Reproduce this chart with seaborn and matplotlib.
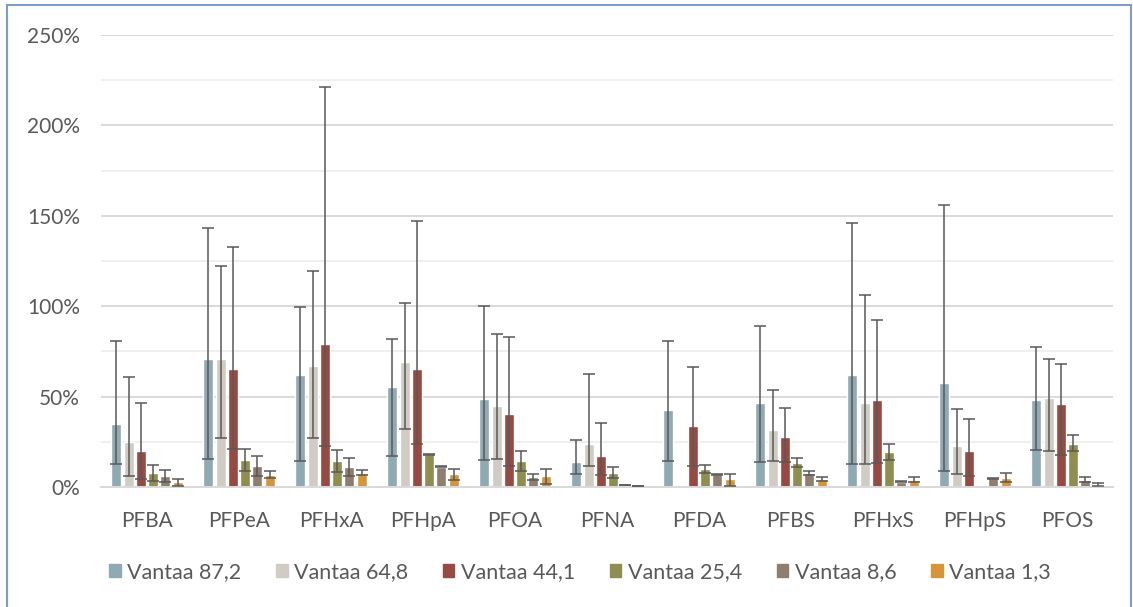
import numpy as np
import pandas as pd
import matplotlib
matplotlib.use("Agg")
import matplotlib.pyplot as plt
from matplotlib.patches import Rectangle
from matplotlib.ticker import FuncFormatter, MultipleLocator
import seaborn as sns

# Compounds and sampling sites
compounds = ["PFBA", "PFPeA", "PFHxA", "PFHpA", "PFOA", "PFNA",
             "PFDA", "PFBS", "PFHxS", "PFHpS", "PFOS"]
sites = ["Vantaa 87,2", "Vantaa 64,8", "Vantaa 44,1",
         "Vantaa 25,4", "Vantaa 8,6", "Vantaa 1,3"]

# Mean recovery (fraction), one list per site; NaN = not determined
v87_2 = [0.351, 0.706, 0.618, 0.553, 0.487, 0.140, 0.428, 0.465, 0.618, 0.575, 0.480]
v64_8 = [0.251, 0.706, 0.671, 0.690, 0.448, 0.236, np.nan, 0.314, 0.465, 0.227, 0.494]
v44_1 = [0.199, 0.653, 0.789, 0.653, 0.406, 0.170, 0.337, 0.275, 0.480, 0.201, 0.461]
v25_4 = [0.078, 0.151, 0.144, 0.181, 0.144, 0.080, 0.098, 0.135, 0.192, np.nan, 0.240]
v8_6 = [0.061, 0.116, 0.109, 0.111, 0.054, 0.011, 0.072, 0.080, 0.030, 0.048, 0.041]
v1_3 = [0.026, 0.066, 0.080, 0.070, 0.059, 0.004, 0.043, 0.044, 0.041, 0.052, 0.011]

# Lower and upper ends of the error bars
lo87_2 = [0.126, 0.153, 0.144, 0.174, 0.151, 0.070, 0.146, 0.138, 0.129, 0.089, 0.207]
hi87_2 = [0.810, 1.430, 0.996, 0.819, 1.003, 0.258, 0.806, 0.890, 1.460, 1.560, 0.774]
lo64_8 = [0.061, 0.271, 0.273, 0.323, 0.157, 0.118, np.nan, 0.144, 0.129, 0.070, 0.199]
hi64_8 = [0.607, 1.220, 1.195, 1.020, 0.845, 0.625, np.nan, 0.539, 1.062, 0.430, 0.710]
lo44_1 = [0.046, 0.212, 0.227, 0.240, 0.118, 0.068, 0.118, 0.138, 0.135, 0.063, 0.179]
hi44_1 = [0.467, 1.330, 2.210, 1.470, 0.832, 0.354, 0.664, 0.439, 0.922, 0.378, 0.682]
lo25_4 = [0.035, 0.091, 0.083, 0.175, 0.091, 0.052, 0.078, 0.111, 0.148, np.nan, 0.199]
hi25_4 = [0.124, 0.212, 0.207, 0.182, 0.199, 0.109, 0.122, 0.160, 0.236, np.nan, 0.286]
lo8_6 = [0.030, 0.063, 0.059, 0.108, 0.041, 0.009, 0.068, 0.068, 0.028, 0.046, 0.026]
hi8_6 = [0.096, 0.170, 0.160, 0.114, 0.070, 0.013, 0.074, 0.091, 0.032, 0.050, 0.055]
lo1_3 = [0.007, 0.048, 0.068, 0.041, 0.019, 0.003, 0.008, 0.033, 0.030, 0.030, 0.008]
hi1_3 = [0.044, 0.087, 0.094, 0.100, 0.100, 0.005, 0.074, 0.055, 0.055, 0.078, 0.024]

means = [v87_2, v64_8, v44_1, v25_4, v8_6, v1_3]
lows = [lo87_2, lo64_8, lo44_1, lo25_4, lo8_6, lo1_3]
highs = [hi87_2, hi64_8, hi44_1, hi25_4, hi8_6, hi1_3]

colors = ["#8FAAB3", "#D0CCC4", "#954A43", "#8E8E52", "#8D7E71", "#D5963A"]
text_color = "#595959"

sns.set_theme(style="white")
plt.rcParams["font.family"] = ["Lato", "DejaVu Sans"]

rows = []
for site, vals in zip(sites, means):
    for comp, v in zip(compounds, vals):
        rows.append({"compound": comp, "site": site,
                     "value": 0.0 if np.isnan(v) else v})
df = pd.DataFrame(rows)

fig = plt.figure(figsize=(11.33, 6.07), dpi=100)
ax = fig.add_axes([101 / 1133, 1 - 487 / 607, 1012 / 1133, 452 / 607])

sns.barplot(data=df, x="compound", y="value", hue="site", order=compounds,
            hue_order=sites, palette=colors, width=0.8, gap=0.2,
            saturation=1, errorbar=None, ax=ax, legend=False, zorder=2)

# Asymmetric error bars centred on each bar
for cont, vals, lo, hi in zip(ax.containers, means, lows, highs):
    xs = [p.get_x() + p.get_width() / 2 for p in cont.patches]
    vals = np.array(vals, dtype=float)
    lo = np.array(lo, dtype=float)
    hi = np.array(hi, dtype=float)
    ok = ~np.isnan(vals) & ~np.isnan(lo)
    xs = np.array(xs)[ok]
    ax.errorbar(xs, vals[ok], yerr=[vals[ok] - lo[ok], hi[ok] - vals[ok]],
                fmt="none", ecolor=text_color, elinewidth=1.1,
                capsize=4.3, capthick=1.1, zorder=3)

ax.set_ylim(0, 2.5)
ax.set_xlim(-0.5, len(compounds) - 0.5)
ax.yaxis.set_major_locator(MultipleLocator(0.5))
ax.yaxis.set_minor_locator(MultipleLocator(0.25))
ax.yaxis.set_major_formatter(FuncFormatter(lambda v, _: f"{v * 100:.0f}%"))
ax.grid(axis="y", which="major", color="#D9D9D9", linewidth=1.4, zorder=0)
ax.grid(axis="y", which="minor", color="#EFEFEF", linewidth=1.4, zorder=0)
ax.set_axisbelow(True)
for side in ["top", "right", "left"]:
    ax.spines[side].set_visible(False)
ax.spines["bottom"].set_color("#D9D9D9")
ax.spines["bottom"].set_linewidth(1.4)
ax.tick_params(axis="both", which="both", length=0, labelsize=15,
               labelcolor=text_color)
ax.tick_params(axis="x", pad=17)
ax.tick_params(axis="y", pad=15)
ax.set_xlabel("")
ax.set_ylabel("")

handles = [Rectangle((0, 0), 1, 1, color=c) for c in colors]
fig.legend(handles, sites, loc="center", bbox_to_anchor=(0.5118, 1 - 572 / 607),
           ncol=6, frameon=False, fontsize=15.5, labelcolor=text_color,
           handlelength=0.55, handleheight=0.55, handletextpad=0.3,
           columnspacing=1.6)

# Chart frame
fig.patches.append(Rectangle((7 / 1133, -0.01), 1124 / 1133, 1 - 5 / 607 + 0.01,
                             transform=fig.transFigure, fill=False,
                             edgecolor="#7F9DC9", linewidth=1.5))

fig.savefig("out.png", dpi=100)
